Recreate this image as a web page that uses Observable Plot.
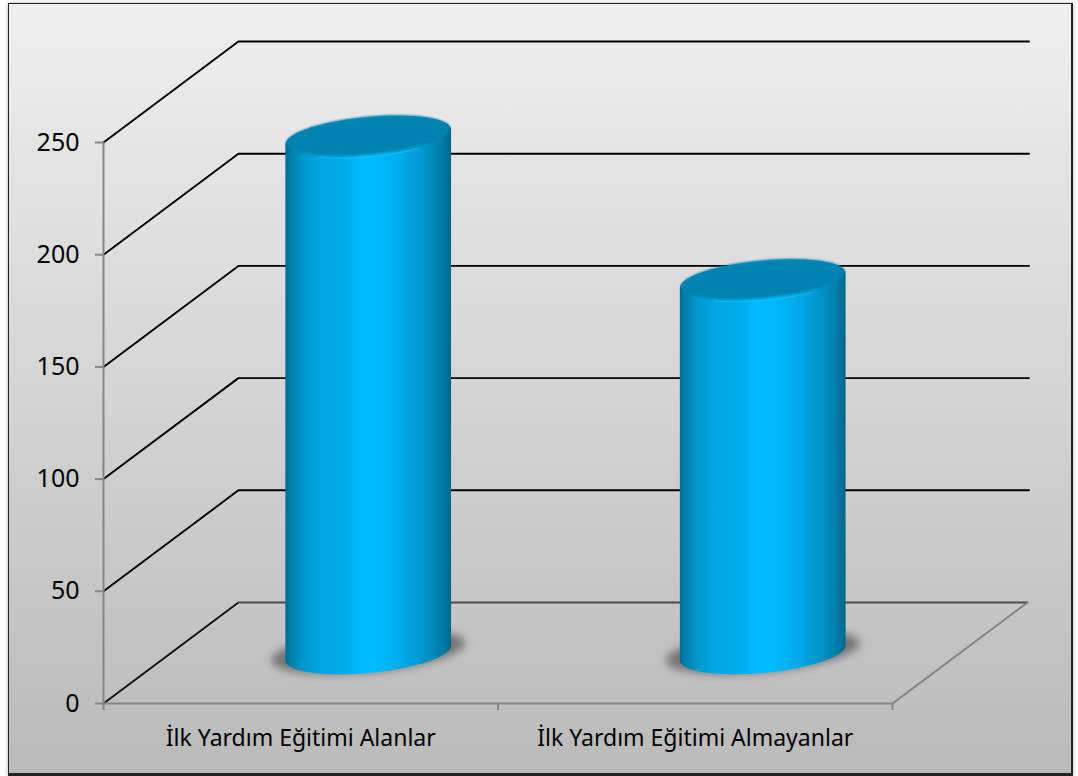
<!DOCTYPE html>
<html><head><meta charset="utf-8">
<script src="https://cdn.jsdelivr.net/npm/d3@7"></script>
<script src="https://cdn.jsdelivr.net/npm/@observablehq/plot@0.6"></script>
<style>
html,body{margin:0;padding:0;background:#fff;overflow:hidden;}
#panel{position:absolute;left:8px;top:3px;width:1061.5px;height:769px;border:solid #222;border-width:1.5px 2px 3px 1.5px;background:linear-gradient(#efefef,#bababa);box-shadow:0 0 4px rgba(0,0,0,.3);}
#chart{position:absolute;left:0;top:0;}
svg{background:transparent!important;overflow:visible;}
</style></head><body>
<div id="panel"></div><div id="chart"></div>
<script>
const categories = ["İlk Yardım Eğitimi Alanlar", "İlk Yardım Eğitimi Almayanlar"];
const values = [230, 166];
const yTicks = [0, 50, 100, 150, 200, 250];
const gridValues = [50, 100, 150, 200, 250];

// oblique projection of the 3D box, expressed in data units
const depthX = 0.342, depthY = 45;
const rx = 0.21, tilt = 3.3, ry = 8.9;
const point = (i, v, t, kx = 1, ky = 1, up = 0) => ({
  x: i + 0.5 + depthX / 2 + kx * rx * Math.cos(t),
  y: v + depthY / 2 + up + kx * tilt * Math.cos(t) + ky * ry * Math.sin(t)
});
const ellipse = (i, v, kx = 1, ky = 1, up = 0) =>
  d3.range(0, 73).map(a => point(i, v, a / 72 * 2 * Math.PI, kx, ky, up));
const arc = (i, v, from, to) =>
  d3.range(0, 37).map(a => point(i, v, from + (to - from) * a / 36));
// outline of the side: top rim (upper half) then base rim (lower half)
const body = (i, v) => [...arc(i, v, 0, Math.PI), ...arc(i, 0, Math.PI, 2 * Math.PI)];

const defs = () => {
  const ns = "http://www.w3.org/2000/svg";
  const d = document.createElementNS(ns, "defs");
  const lg = document.createElementNS(ns, "linearGradient");
  lg.setAttribute("id", "cyl");
  [[0,"#006a90"],[.03,"#007eaa"],[.1,"#0096cb"],[.2,"#00a6e0"],[.35,"#00acea"],[.47,"#00baff"],[.57,"#00b9fd"],[.72,"#00a9e6"],[.85,"#0094c8"],[.95,"#007ca6"],[1,"#00648a"]]
    .forEach(([o, c]) => {
      const s = document.createElementNS(ns, "stop");
      s.setAttribute("offset", o); s.setAttribute("stop-color", c); lg.appendChild(s);
    });
  d.appendChild(lg);
  return d;
};

const gridLine = v => [
  {x: 0, y: v},
  {x: depthX, y: v + depthY},
  {x: 2 + depthX + 0.004, y: v + depthY}
];

const marks = [
  defs,
  // floor
  Plot.line([{x: 0, y: 0}, {x: depthX, y: depthY}], {x: "x", y: "y", stroke: "#111", strokeWidth: 1.9}),
  Plot.line([{x: depthX, y: depthY}, {x: 2 + depthX, y: depthY}], {x: "x", y: "y", stroke: "#4d4d4d", strokeWidth: 1.9}),
  Plot.line([{x: 2, y: 0}, {x: 2 + depthX, y: depthY}], {x: "x", y: "y", stroke: "#808080", strokeWidth: 1.9}),
  // grid
  ...gridValues.map(v => Plot.line(gridLine(v), {x: "x", y: "y", stroke: "#000", strokeWidth: 1.9})),
  // axes
  Plot.ruleX([0], {y1: 0, y2: 250, stroke: "#868686", strokeWidth: 2}),
  Plot.ruleY([0], {x1: 0, x2: 2, stroke: "#868686", strokeWidth: 2.2}),
  Plot.axisY({ticks: yTicks, tickSize: 8, tickPadding: 16, stroke: "#868686", strokeWidth: 2, fill: "#000", fontSize: 25, label: null}),
  Plot.axisX({ticks: [0, 1, 2], tickSize: 7, stroke: "#868686", strokeWidth: 2, tickFormat: () => "", label: null}),
  Plot.text(categories, {x: (d, i) => i + 0.5, y: () => 0, text: d => d, dy: 35, fontSize: 23, fill: "#000"}),
  // cylinders
  ...values.flatMap((v, i) => [
    Plot.line(ellipse(i, 0, 1.17, 1.03, 0.6), {x: "x", y: "y", fill: "#444", stroke: "none", fillOpacity: 0.62, imageFilter: "blur(4.5px)"}),
    Plot.line(body(i, v), {x: "x", y: "y", fill: "url(#cyl)", stroke: "none"}),
    Plot.line(ellipse(i, v, 0.985, 0.95, 0.6), {x: "x", y: "y", fill: "#0083b1", stroke: "none", imageFilter: "blur(1.2px)"}),
    Plot.line(arc(i, v, 1.3 * Math.PI, 1.7 * Math.PI), {x: "x", y: "y", stroke: "#30ccff", strokeWidth: 1, strokeOpacity: 0.45})
  ])
];

const chart = Plot.plot({
  width: 1078, height: 776,
  marginLeft: 103, marginRight: 186, marginTop: 142, marginBottom: 73,
  style: {fontFamily: "'Noto Sans', sans-serif", background: "transparent"},
  x: {domain: [0, 2], axis: null},
  y: {domain: [0, 250], axis: null},
  marks
});
document.getElementById("chart").appendChild(chart);
</script>
</body></html>
